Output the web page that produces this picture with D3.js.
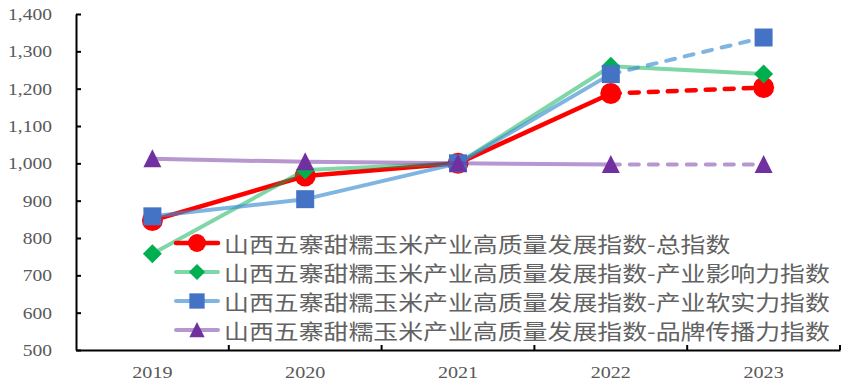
<!DOCTYPE html>
<html><head><meta charset="utf-8">
<script src="https://cdn.jsdelivr.net/npm/d3@7"></script>
<style>html,body{margin:0;padding:0;background:#fff;}</style>
</head><body>
<svg id="c" width="862" height="381"></svg>
<script>
const years = ["2019","2020","2021","2022","2023"];
const totalIndex = [847, 966, 1000, 1187, 1203];
const influenceIndex = [758, 982, 1000, 1260, 1239];
const softPowerIndex = [858, 904, 1000, 1239, 1337];
const brandIndex = [1012, 1004, 1000, 997, 997];
const yTicks = [500,600,700,800,900,1000,1100,1200,1300,1400];
const seriesNames = [
  "山西五寨甜糯玉米产业高质量发展指数-总指数",
  "山西五寨甜糯玉米产业高质量发展指数-产业影响力指数",
  "山西五寨甜糯玉米产业高质量发展指数-产业软实力指数",
  "山西五寨甜糯玉米产业高质量发展指数-品牌传播力指数"
];

(function(){
const series = [
  {name: seriesNames[0], values: totalIndex, line: "#FF0000", lineOp: 1, lw: 4.5, marker: "#FF0000", shape: "circle", dashLast: true},
  {name: seriesNames[1], values: influenceIndex, line: "#00B050", lineOp: 0.5, lw: 4, marker: "#00B050", shape: "diamond", dashLast: false},
  {name: seriesNames[2], values: softPowerIndex, line: "#3C8DD2", lineOp: 0.65, lw: 4, marker: "#4472C4", shape: "square", dashLast: true},
  {name: seriesNames[3], values: brandIndex, line: "#7030A0", lineOp: 0.5, lw: 4, marker: "#7030A0", shape: "triangle", dashLast: true}
];

const svg = d3.select("#c");
const mLeft = 76, mRight = 840, mTop = 14, mBottom = 350;
const x = d3.scaleBand().domain(years).range([mLeft, mRight]).padding(0);
const y = d3.scaleLinear().domain([500, 1400]).range([mBottom, mTop]);
const cx = d => x(d) + x.bandwidth() / 2;
const textColor = "#595959";
const sx = 1.15;

// Y axis
const yAxis = svg.append("g").attr("transform", `translate(${mLeft},0)`)
  .call(d3.axisLeft(y).tickValues(yTicks).tickSizeInner(-5).tickSizeOuter(0).tickFormat(d3.format(",")));
yAxis.select(".domain").attr("stroke", "#000").attr("stroke-width", 2);
yAxis.selectAll(".tick line").attr("stroke", "#000").attr("stroke-width", 2);
yAxis.selectAll(".tick text")
  .attr("x", null).attr("dy", null)
  .attr("transform", `translate(-24,0) scale(${sx},1)`)
  .attr("text-anchor", "end").attr("dominant-baseline", "central")
  .attr("fill", textColor)
  .style("font-family", "'Liberation Serif','Times New Roman',serif").style("font-size", "17px");

// X axis
const xAxis = svg.append("g").attr("transform", `translate(0,${mBottom})`)
  .call(d3.axisBottom(x).tickSize(0).tickSizeOuter(0));
xAxis.select(".domain").attr("stroke", "#000").attr("stroke-width", 2);
xAxis.selectAll(".tick text")
  .attr("y", null).attr("dy", null)
  .attr("transform", `translate(0,22) scale(${sx},1)`)
  .attr("text-anchor", "middle").attr("dominant-baseline", "central")
  .attr("fill", textColor)
  .style("font-family", "'Liberation Serif','Times New Roman',serif").style("font-size", "17.5px");
xAxis.selectAll(".bnd").data(years).enter().append("line")
  .attr("x1", d => x(d) + x.bandwidth()).attr("x2", d => x(d) + x.bandwidth())
  .attr("y1", 0).attr("y2", -5).attr("stroke", "#000").attr("stroke-width", 2);

function symbolPath(shape) {
  if (shape === "circle") return d3.symbol().type(d3.symbolCircle).size(Math.PI * 10.5 * 10.5)();
  if (shape === "square") return d3.symbol().type(d3.symbolSquare).size(18 * 18)();
  if (shape === "diamond") return "M0,-9.5L9.5,0L0,9.5L-9.5,0Z";
  if (shape === "triangle") return "M0,-9.5L9,8.5L-9,8.5Z";
}

const lineGen = d3.line().x(d => cx(d.year)).y(d => y(d.v));

series.forEach(s => {
  const pts = years.map((yr, i) => ({year: yr, v: s.values[i]}));
  const g = svg.append("g");
  const solidPts = s.dashLast ? pts.slice(0, 4) : pts;
  g.append("path").attr("d", lineGen(solidPts)).attr("fill", "none")
    .attr("stroke", s.line).attr("stroke-opacity", s.lineOp).attr("stroke-width", s.lw)
    .attr("stroke-linejoin", "round").attr("stroke-linecap", "round");
  if (s.dashLast) {
    g.append("path").attr("d", lineGen(pts.slice(3))).attr("fill", "none")
      .attr("stroke", s.line).attr("stroke-opacity", s.lineOp).attr("stroke-width", s.lw)
      .attr("stroke-dasharray", "9,10").attr("stroke-linecap", "round");
  }
  g.selectAll(".m").data(pts).enter().append("path")
    .attr("d", symbolPath(s.shape))
    .attr("transform", d => `translate(${cx(d.year)},${y(d.v)})`)
    .attr("fill", s.marker);
});

// Legend
const legendRows = [243, 272, 301, 330];
series.forEach((s, i) => {
  const g = svg.append("g").attr("transform", `translate(0,${legendRows[i]})`);
  g.append("line").attr("x1", 176).attr("x2", 218).attr("y1", 0).attr("y2", 0)
    .attr("stroke", s.line).attr("stroke-opacity", s.lineOp).attr("stroke-width", s.lw)
    .attr("stroke-linecap", "round");
  g.append("path").attr("d", symbolPath(s.shape)).attr("transform", "translate(197,0) scale(0.85)")
    .attr("fill", s.marker);
  g.append("text").attr("transform", `translate(224,0) scale(1.186,1)`)
    .attr("dominant-baseline", "central").attr("fill", "#626262")
    .style("font-family", "'Noto Sans CJK SC','Noto Sans',sans-serif").style("font-size", "21px")
    .text(s.name);
});
})();
</script>
</body></html>
